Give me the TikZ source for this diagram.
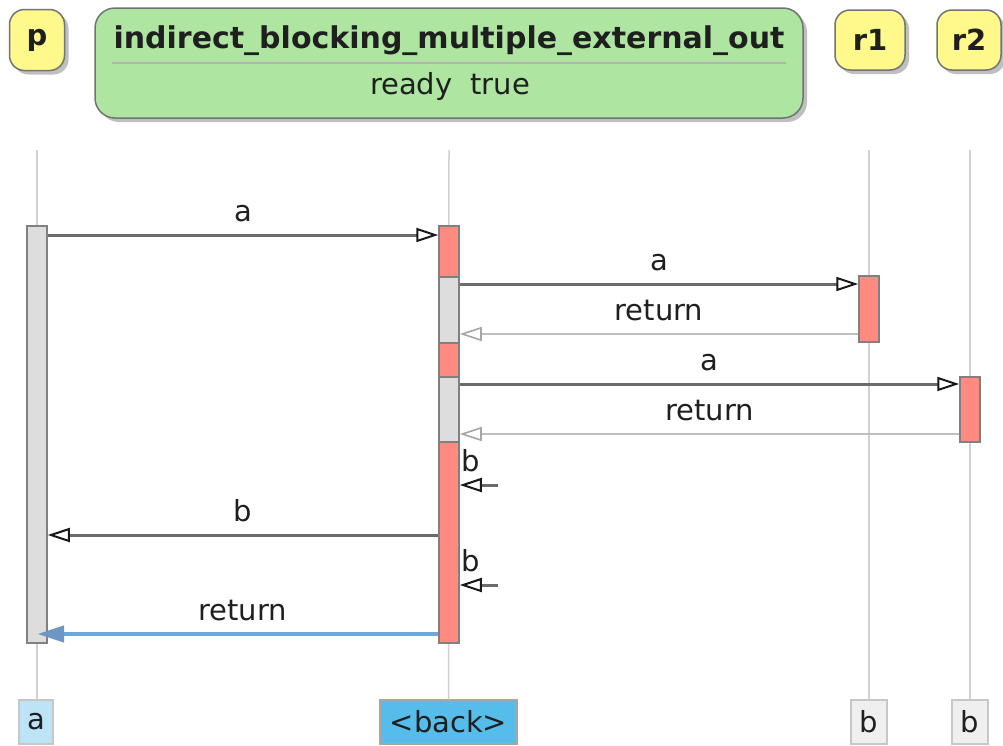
\documentclass[tikz,border=0pt]{standalone}
\usepackage{fontspec}
\setmainfont{DejaVu Sans}
\usetikzlibrary{arrows.meta,shadows}

\definecolor{headyellow}{HTML}{FFF98C}
\definecolor{titlegreen}{HTML}{ADE5A1}
\definecolor{actgray}{HTML}{DDDDDD}
\definecolor{actred}{HTML}{FF8A80}
\definecolor{retblue}{HTML}{6EA6E0}
\definecolor{tipblue}{HTML}{6C96C6}
\definecolor{footlight}{HTML}{BCE4F6}
\definecolor{footblue}{HTML}{56BDEB}
\definecolor{footgray}{HTML}{EFEFEF}

\tikzset{
  x=1pt, y=-1pt,
  every node/.style={text=black!88},
  head/.style={draw=black!55, fill=headyellow, line width=1.5pt, rounded corners=15pt,
    font=\bfseries, inner sep=0pt,
    drop shadow={shadow xshift=4pt, shadow yshift=-4pt, fill=black, opacity=0.25}},
  titlebox/.style={draw=black!55, fill=titlegreen, line width=1.5pt, rounded corners=20pt,
    inner sep=0pt,
    drop shadow={shadow xshift=4pt, shadow yshift=-4pt, fill=black, opacity=0.25}},
  life/.style={draw=black!18, line width=1.5pt},
  act/.style={draw=black!50, line width=1.5pt, minimum width=20pt, inner sep=0pt},
  msg/.style={draw=black!58, line width=3pt,
    -{Triangle[open, length=22pt, width=14pt, line width=2pt, color=black!90]}},
  ret/.style={draw=black!25, line width=2.8pt,
    -{Triangle[open, length=22pt, width=14pt, line width=1.6pt, color=black!35]}},
  blueret/.style={draw=retblue, line width=4pt,
    -{Triangle[length=26pt, width=17pt, line width=1pt, fill=tipblue, color=tipblue]}},
  lbl/.style={anchor=base, yshift=14pt},
  foot/.style={draw=black!22, line width=1.5pt, inner sep=0pt, minimum height=44pt},
}

\begin{document}
\fontsize{29}{34}\selectfont
\begin{tikzpicture}
\useasboundingbox (0,0) rectangle (1003,745);

\node[head, minimum width=55pt, minimum height=61pt] (p) at (37,40) {p};
\node[head, minimum width=70pt, minimum height=60pt] (r1) at (870,40) {r1};
\node[head, minimum width=64pt, minimum height=60pt] (r2) at (969,40) {r2};

\node[titlebox, minimum width=708pt, minimum height=110pt] (diag) at (449,63) {};
\node[anchor=base, font=\bfseries\fontsize{30}{36}\selectfont] (diagName) at (449,48)
  {indirect\_blocking\_multiple\_external\_out};
\draw[black!30, line width=1.5pt] ([xshift=18pt]diag.west) -- ([xshift=-18pt]diag.east);
\node[anchor=base] (diagState) at (450,94) {ready\hspace{18pt}true};

\node[foot, fill=footlight, minimum width=34pt] (pFoot) at (36,722) {a};
\node[foot, fill=footblue, draw=black!35, minimum width=137pt] (backFoot) at (448.5,722) {<back>};
\node[foot, fill=footgray, minimum width=36pt] (r1Foot) at (869,722) {b};
\node[foot, fill=footgray, minimum width=36pt] (r2Foot) at (970,722) {b};

\coordinate (pTop) at (37,150);
\coordinate (backTop) at (449,150);
\coordinate (r1Top) at (869,150);
\coordinate (r2Top) at (970,150);
\draw[life] (pTop) -- (pTop |- pFoot.north);
\draw[life] (backTop) -- (backFoot.north);
\draw[life] (r1Top) -- (r1Foot.north);
\draw[life] (r2Top) -- (r2Foot.north);

\node[act, fill=actgray, minimum height=417pt] (pAct) at (37,434.5) {};
\node[act, fill=actred, minimum height=417pt] (backAct) at (449,434.5) {};
\node[act, fill=actgray, minimum height=66pt] (backIn1) at (449,310) {};
\node[act, fill=actgray, minimum height=65pt] (backIn2) at (449,409.5) {};
\node[act, fill=actred, minimum height=66pt] (r1Act) at (869,309) {};
\node[act, fill=actred, minimum height=65pt] (r2Act) at (970,409.5) {};

\draw[msg] (pAct.east |- 0,235) -- node[lbl] {a} (backAct.west |- 0,235);
\draw[msg] (backIn1.east |- 0,284) -- node[lbl] {a} (r1Act.west |- 0,284);
\draw[ret] (r1Act.west |- 0,334) -- node[lbl] {return} (backIn1.east |- 0,334);
\draw[msg] (backIn2.east |- 0,384) -- node[lbl] {a} (r2Act.west |- 0,384);
\draw[ret] (r2Act.west |- 0,434) -- node[lbl] {return} (backIn2.east |- 0,434);

\coordinate (bIn1) at (498,485);
\draw[msg] (bIn1) -- (backAct.east |- bIn1)
  node[anchor=base west, yshift=14pt, inner xsep=0pt] {b};
\draw[msg] (backAct.west |- 0,535) -- node[lbl] {b} (pAct.east |- 0,535);
\coordinate (bIn2) at (498,585);
\draw[msg] (bIn2) -- (backAct.east |- bIn2)
  node[anchor=base west, yshift=14pt, inner xsep=0pt] {b};
\draw[blueret] (backAct.west |- 0,634) -- node[lbl, xshift=4.5pt] {return} ([xshift=1pt]pAct.center |- 0,634);

\end{tikzpicture}
\end{document}
